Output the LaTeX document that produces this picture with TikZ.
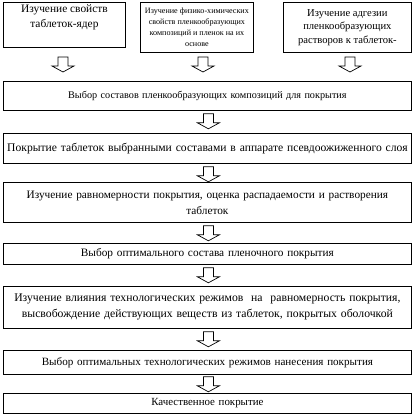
\documentclass[tikz,border=0pt]{standalone}
\usepackage{fontspec}
\setmainfont{Liberation Serif}
\usetikzlibrary{calc}
\begin{document}
\begin{tikzpicture}[x=1pt,y=-1pt,
  box/.style={draw=black,line width=0.8pt,inner sep=0pt},
  wide/.style={box,minimum width=408pt,align=center,text width=406pt},
  arrowline/.style={draw=black,line width=0.7pt,fill=white},
  pics/darrow/.style={code={\path[arrowline] (-5,0) -- (5,0) -- (5,9) -- (11,9) -- (0,15) -- (-11,9) -- (-5,9) -- cycle;}}]
\useasboundingbox[fill=white] (0,0) rectangle (414,418);
% top boxes
\node[box,minimum width=122pt,minimum height=45pt,anchor=north west,align=center,font=\fontsize{11.4}{15}\selectfont,text depth=17pt] (b1) at (3,2) {Изучение свойств\\таблеток-ядер};
\node[box,minimum width=113pt,minimum height=50pt,anchor=north west,align=center,font=\fontsize{8.1}{10.8}\selectfont] (b2) at (140,2) {Изучение физико-химических\\свойств пленкообразующих\\композиций и пленок на их\\основе};
\node[box,minimum width=128pt,minimum height=50pt,anchor=north west,align=center,font=\fontsize{10.6}{13.5}\selectfont] (b3) at (283,2) {Изучение адгезии\\пленкообразующих\\растворов к таблеток-};
% rows
\node[wide,minimum height=29pt,anchor=north west,font=\fontsize{10.2}{13}\selectfont] (r2) at (3,81) {Выбор составов пленкообразующих композиций для покрытия};
\node[wide,minimum height=30pt,anchor=north west,font=\fontsize{11.6}{13}\selectfont] (r3) at (3,133) {Покрытие таблеток выбранными составами в аппарате псевдоожиженного слоя};
\node[wide,minimum height=40pt,anchor=north west,font=\fontsize{11.3}{16}\selectfont] (r4) at (3,182) {Изучение равномерности покрытия, оценка распадаемости и растворения\\таблеток};
\node[wide,minimum height=21pt,anchor=north west,font=\fontsize{11.3}{13}\selectfont] (r5) at (3,243) {Выбор оптимального состава пленочного покрытия};
\node[wide,minimum height=42pt,anchor=north west,font=\fontsize{11.7}{16}\selectfont] (r6) at (3,286) {Изучение влияния технологических режимов \ на \ равномерность покрытия,\\высвобождение действующих веществ из таблеток, покрытых оболочкой};
\node[wide,minimum height=24pt,anchor=north west,font=\fontsize{11.1}{13}\selectfont] (r7) at (3,350) {Выбор оптимальных технологических режимов нанесения покрытия};
\node[wide,minimum height=20pt,anchor=north west,font=\fontsize{10.9}{13}\selectfont] (r8) at (3,393) {Качественное покрытие};
% block arrows
\pic at (63,57) {darrow};
\pic at (203,57) {darrow};
\pic at (350,57) {darrow};
\pic at ($(r2.south)+(1,3)$) {darrow};
\pic at ($(r3.south)+(1,3)$) {darrow};
\pic at ($(r4.south)+(1,3)$) {darrow};
\pic at ($(r5.south)+(1,3)$) {darrow};
\pic at ($(r6.south)+(1,3)$) {darrow};
\pic at ($(r7.south)+(1,2)$) {darrow};
\end{tikzpicture}
\end{document}
